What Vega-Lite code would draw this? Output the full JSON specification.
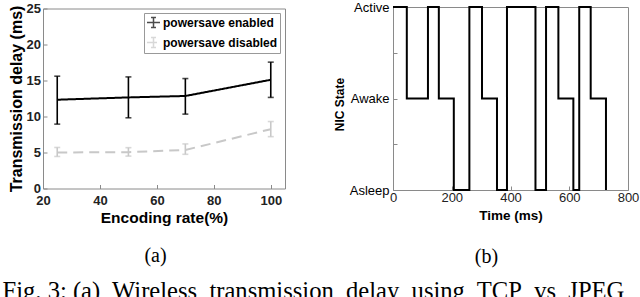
{
  "$schema": "https://vega.github.io/schema/vega-lite/v6.json",
  "background": "white",
  "padding": {"left": 2, "top": 0, "right": 5, "bottom": 0},
  "datasets": {
    "delay": [
      {"rate": 25, "series": "powersave enabled", "mean": 12.33, "lo": 8.94, "hi": 15.6},
      {"rate": 50, "series": "powersave enabled", "mean": 12.65, "lo": 9.82, "hi": 15.5},
      {"rate": 70, "series": "powersave enabled", "mean": 12.85, "lo": 10.33, "hi": 15.27},
      {"rate": 100, "series": "powersave enabled", "mean": 15.1, "lo": 12.65, "hi": 17.55},
      {"rate": 25, "series": "powersave disabled", "mean": 5.0, "lo": 4.45, "hi": 5.7},
      {"rate": 50, "series": "powersave disabled", "mean": 5.05, "lo": 4.5, "hi": 5.67},
      {"rate": 70, "series": "powersave disabled", "mean": 5.35, "lo": 4.75, "hi": 6.19},
      {"rate": 100, "series": "powersave disabled", "mean": 8.24, "lo": 7.2, "hi": 9.3}
    ],
    "nic": [
      {"t": 0, "state": 2}, {"t": 47, "state": 1}, {"t": 119, "state": 2},
      {"t": 156, "state": 1}, {"t": 207, "state": 0}, {"t": 260, "state": 2},
      {"t": 303, "state": 1}, {"t": 354, "state": 0}, {"t": 388, "state": 2},
      {"t": 485, "state": 0}, {"t": 521, "state": 2}, {"t": 563, "state": 1},
      {"t": 614, "state": 0}, {"t": 634, "state": 2}, {"t": 673, "state": 1},
      {"t": 725, "state": 0}
    ]
  },
  "config": {
    "view": {"stroke": "#8a8a8a", "strokeWidth": 1},
    "axis": {
      "grid": false, "domain": false, "tickColor": "#8a8a8a", "tickSize": -4,
      "labelColor": "#222222", "titleColor": "#000000",
      "labelFont": "Liberation Sans", "titleFont": "Liberation Sans",
      "labelFlush": false, "labelOverlap": false
    },
    "legend": {
      "orient": "none", "legendX": 101, "legendY": 6, "title": null,
      "strokeColor": "#999999", "fillColor": "#ffffff", "padding": 2,
      "rowPadding": 3, "labelFont": "Liberation Sans", "labelFontSize": 12,
      "labelFontWeight": "bold", "labelColor": "#000000", "labelOffset": 2,
      "symbolType": "M-1,0L1,0M0,-0.77L0,0.77M-0.38,-0.77L0.38,-0.77M-0.38,0.77L0.38,0.77",
      "symbolSize": 169, "symbolStrokeWidth": 1.5, "symbolFillColor": "transparent"
    }
  },
  "title": {
    "text": "Fig. 3: (a)\u00a0 Wireless\u00a0 transmission\u00a0 delay\u00a0 using\u00a0 TCP\u00a0 vs\u00a0 JPEG",
    "orient": "bottom", "anchor": "start", "font": "Liberation Serif",
    "fontSize": 24.6, "fontWeight": "normal", "color": "#000000", "offset": 12, "dx": -5
  },
  "spacing": 108,
  "bounds": "flush",
  "center": true,
  "hconcat": [
    {
      "width": 242, "height": 180,
      "data": {"name": "delay"},
      "title": {"text": "(a)", "orient": "bottom", "frame": "group", "anchor": "middle", "offset": 20, "dx": -8.5,
                "font": "Liberation Serif", "fontSize": 20, "fontWeight": "normal", "color": "#000000"},
      "encoding": {
        "x": {"field": "rate", "type": "quantitative",
              "scale": {"domain": [20, 105], "nice": false, "zero": false},
              "axis": {"values": [20, 40, 60, 80, 100], "title": "Encoding rate(%)",
                       "labelFontSize": 13, "labelFontWeight": "bold", "labelPadding": 10, "labelOverlap": false,
                       "titleFontSize": 15.5, "titleFontWeight": "bold", "titlePadding": 3}},
        "color": {"field": "series", "type": "nominal",
                  "legend": {"orient": "none", "legendX": 101, "legendY": 6},
                  "scale": {"domain": ["powersave enabled", "powersave disabled"], "range": ["#000000", "#c8c8c8"]}}
      },
      "layer": [
        {
          "mark": {"type": "rule", "strokeWidth": 1.6},
          "encoding": {
            "y": {"field": "lo", "type": "quantitative",
                  "scale": {"domain": [0, 25], "nice": false},
                  "axis": {"values": [0, 5, 10, 15, 20, 25], "title": "Transmission delay (ms)",
                           "labelFontSize": 13, "labelFontWeight": "bold", "labelPadding": 6.5, "labelOverlap": false,
                           "titleFontSize": 16, "titleFontWeight": "bold", "titlePadding": 2}},
            "y2": {"field": "hi"}
          }
        },
        {
          "mark": {"type": "tick", "orient": "horizontal", "size": 6, "thickness": 1.6},
          "encoding": {
            "y": {"field": "lo", "type": "quantitative",
                  "scale": {"domain": [0, 25], "nice": false},
                  "axis": {"values": [0, 5, 10, 15, 20, 25], "title": "Transmission delay (ms)",
                           "labelFontSize": 13, "labelFontWeight": "bold", "labelPadding": 6.5, "labelOverlap": false,
                           "titleFontSize": 16, "titleFontWeight": "bold", "titlePadding": 2}}
          }
        },
        {
          "mark": {"type": "tick", "orient": "horizontal", "size": 6, "thickness": 1.6},
          "encoding": {
            "y": {"field": "hi", "type": "quantitative",
                  "scale": {"domain": [0, 25], "nice": false},
                  "axis": {"values": [0, 5, 10, 15, 20, 25], "title": "Transmission delay (ms)",
                           "labelFontSize": 13, "labelFontWeight": "bold", "labelPadding": 6.5, "labelOverlap": false,
                           "titleFontSize": 16, "titleFontWeight": "bold", "titlePadding": 2}}
          }
        },
        {
          "mark": {"type": "line", "strokeWidth": 2},
          "encoding": {
            "y": {"field": "mean", "type": "quantitative",
                  "scale": {"domain": [0, 25], "nice": false},
                  "axis": {"values": [0, 5, 10, 15, 20, 25], "title": "Transmission delay (ms)",
                           "labelFontSize": 13, "labelFontWeight": "bold", "labelPadding": 6.5, "labelOverlap": false,
                           "titleFontSize": 16, "titleFontWeight": "bold", "titlePadding": 2}},
            "strokeDash": {"field": "series", "type": "nominal",
                           "legend": {"orient": "none", "legendX": 101, "legendY": 6},
                           "scale": {"domain": ["powersave enabled", "powersave disabled"], "range": [[1, 0], [10, 6]]}}
          }
        }
      ]
    },
    {
      "width": 235, "height": 183,
      "data": {"name": "nic"},
      "title": {"text": "(b)", "orient": "bottom", "frame": "group", "anchor": "middle", "offset": 25, "dx": -24,
                "font": "Liberation Serif", "fontSize": 20, "fontWeight": "normal", "color": "#000000"},
      "mark": {"type": "line", "interpolate": "step-after", "color": "#000000", "strokeWidth": 2},
      "encoding": {
        "x": {"field": "t", "type": "quantitative",
              "scale": {"domain": [0, 800], "nice": false},
              "axis": {"values": [0, 200, 400, 600, 800], "title": "Time (ms)",
                       "labelFontSize": 13, "labelPadding": 5.5,
                       "titleFontSize": 13.5, "titleFontWeight": "bold", "titlePadding": 4}},
        "y": {"field": "state", "type": "quantitative",
              "scale": {"domain": [0, 2], "nice": false},
              "axis": {"values": [0, 0.5, 1, 1.5, 2], "title": "NIC State",
                       "labelExpr": "datum.value == 2 ? 'Active' : datum.value == 1 ? 'Awake' : datum.value == 0 ? 'Asleep' : ''",
                       "labelFontSize": 13, "labelPadding": 8, "labelColor": "#000000",
                       "titleFontSize": 12, "titleFontWeight": "bold", "titlePadding": 3, "titleY": 97}}
      }
    }
  ]
}
